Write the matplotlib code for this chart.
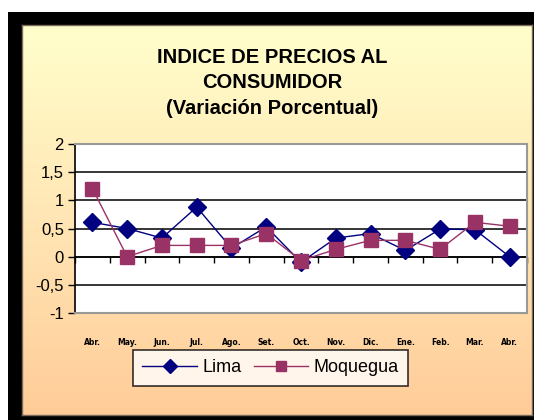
import numpy as np
import matplotlib
matplotlib.use("Agg")
import matplotlib.pyplot as plt
from matplotlib.patches import Rectangle
from matplotlib.colors import LinearSegmentedColormap
from matplotlib.ticker import FuncFormatter

# Data
months = ["Abr.", "May.", "Jun.", "Jul.", "Ago.", "Set.", "Oct.",
          "Nov.", "Dic.", "Ene.", "Feb.", "Mar.", "Abr."]
lima = [0.61, 0.50, 0.33, 0.88, 0.15, 0.53, -0.10, 0.33, 0.41, 0.11, 0.49, 0.48, 0.00]
moquegua = [1.21, 0.00, 0.20, 0.20, 0.20, 0.41, -0.07, 0.13, 0.29, 0.29, 0.13, 0.61, 0.54]
y_ticks = [-1, -0.5, 0, 0.5, 1, 1.5, 2]

W, H = 534, 420
fig = plt.figure(figsize=(W / 100, H / 100), dpi=100)
fig.patch.set_facecolor("white")

# black outer frame
fig.patches.append(Rectangle((8 / W, 0), (W - 8) / W, 408 / H,
                             transform=fig.transFigure, facecolor="black",
                             edgecolor="none", zorder=0))

# gradient chart area
bg = fig.add_axes([22 / W, 5 / H, 510 / W, 390 / H], zorder=1)
cmap = LinearSegmentedColormap.from_list("bg", ["#FFFFCC", "#FFE6B4", "#FFCC99"])
grad = np.linspace(0, 1, 256).reshape(-1, 1)
bg.imshow(grad, aspect="auto", cmap=cmap, extent=[0, 1, 0, 1])
bg.set_xticks([])
bg.set_yticks([])
for s in bg.spines.values():
    s.set_color("#7a6a5a")
    s.set_linewidth(1)

# plot area
ax = fig.add_axes([75 / W, (H - 313) / H, 452 / W, 169 / H], zorder=2)
ax.set_facecolor("white")
x = np.arange(len(months))

for yv in [-0.5, 0, 0.5, 1, 1.5]:
    ax.axhline(yv, color="black", lw=1.1, zorder=1)

ax.plot(x, lima, color="#000080", lw=1, marker="D", markersize=9,
        markeredgecolor="#000080", markerfacecolor="#000080", label="Lima", zorder=3)
ax.plot(x, moquegua, color="#993366", lw=1, marker="s", markersize=9.5,
        markeredgecolor="#993366", markerfacecolor="#993366", label="Moquegua", zorder=4)

ax.set_xlim(-0.5, len(months) - 0.5)
ax.set_ylim(-1, 2)
ax.set_yticks(y_ticks)
ax.yaxis.set_major_formatter(FuncFormatter(lambda v, p: ("%g" % v).replace(".", ",")))
ax.tick_params(axis="y", direction="out", length=5, width=1, pad=3,
               labelsize=12, colors="black")
ax.set_xticks(x)
ax.set_xticklabels(months, fontsize=5.5, fontweight="bold", family="DejaVu Sans")
ax.tick_params(axis="x", length=0, pad=18)

for side in ["top", "right", "bottom"]:
    ax.spines[side].set_color("#999999")
    ax.spines[side].set_linewidth(1.5)
ax.spines["left"].set_color("black")
ax.spines["left"].set_linewidth(1.2)

# category axis crossing at zero with tick marks between categories
sec = ax.secondary_xaxis(1 / 3)
sec.set_xticks(np.arange(len(months) + 1) - 0.5)
sec.set_xticklabels([])
sec.tick_params(direction="out", length=4, width=1, colors="black")
sec.spines["bottom"].set_color("black")
sec.spines["bottom"].set_linewidth(1.1)

for yl in ax.get_yticklabels():
    yl.set_family("Liberation Sans")

fig.text(272 / W, 1 - 83 / H,
         "INDICE DE PRECIOS AL\nCONSUMIDOR\n(Variación Porcentual)",
         ha="center", va="center", fontsize=14.5, fontweight="bold",
         family="Liberation Sans", linespacing=1.45, zorder=5)

leg = ax.legend(loc="center", bbox_to_anchor=(270.5 / W, 1 - 368 / H),
                bbox_transform=fig.transFigure, ncol=2, frameon=True,
                fancybox=False, handlelength=3.0, markerscale=0.75,
                columnspacing=0.7, handletextpad=0.3, borderpad=0.55,
                prop={"family": "Liberation Sans", "size": 13})
leg.get_frame().set_edgecolor("black")
leg.get_frame().set_linewidth(1.2)
leg.get_frame().set_facecolor("white")

fig.savefig("out.png", dpi=100)
